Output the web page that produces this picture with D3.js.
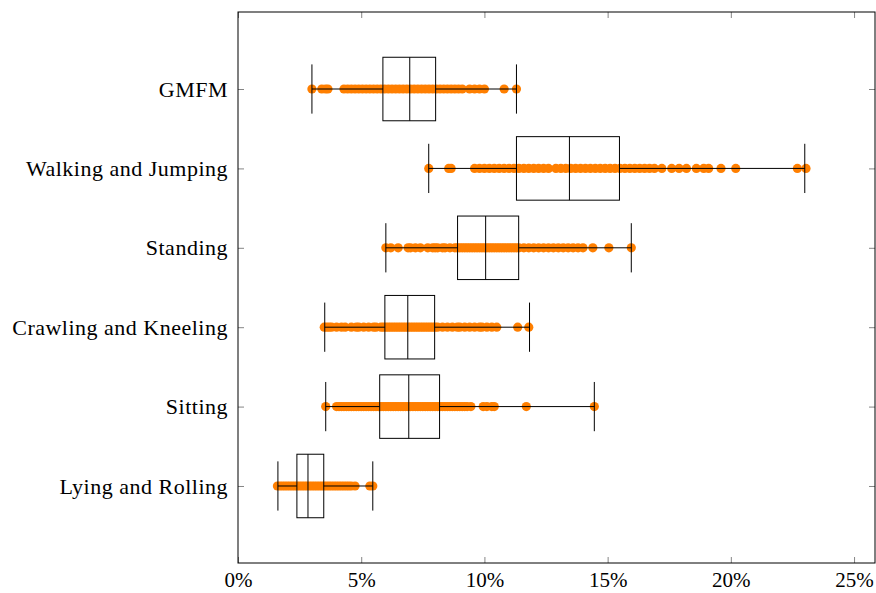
<!DOCTYPE html>
<html><head><meta charset="utf-8">
<script src="https://cdn.jsdelivr.net/npm/d3@7"></script>
<style>body{margin:0;background:#fff}svg{display:block}text{font-family:"Liberation Serif",serif;fill:#000}</style>
</head><body><svg id="c" width="876" height="593"></svg>
<script>
const categories = ["Lying and Rolling","Sitting","Crawling and Kneeling","Standing","Walking and Jumping","GMFM"];
const whiskerLow = [1.62, 3.56, 3.52, 6.0, 7.74, 3.0];
const q1 = [2.39, 5.75, 5.96, 8.91, 11.3, 5.88];
const median = [2.84, 6.93, 6.89, 10.05, 13.45, 6.97];
const q3 = [3.48, 8.18, 7.98, 11.39, 15.48, 8.02];
const whiskerHigh = [5.47, 14.46, 11.83, 15.96, 23.0, 11.3];
const pointsLying = [1.6,1.7,1.8,1.9,2.0,2.1,2.2,2.3,2.4,2.5,2.6,2.7,2.8,2.9,3.0,3.1,3.2,3.3,3.4,3.5,3.6,3.7,3.8,3.9,4.0,4.1,4.2,4.3,4.4,4.5,4.6,4.75,5.35,5.47];
const pointsSitting = [3.56,4.0,4.1,4.2,4.3,4.4,4.5,4.6,4.7,4.8,4.9,5.0,5.1,5.2,5.3,5.4,5.5,5.6,5.7,5.8,5.9,6.0,6.1,6.2,6.3,6.4,6.5,6.6,6.7,6.8,6.9,7.0,7.1,7.2,7.3,7.4,7.5,7.6,7.7,7.8,7.9,8.0,8.1,8.2,8.3,8.4,8.5,8.6,8.7,8.8,8.9,9.0,9.1,9.2,9.3,9.45,9.95,10.1,10.3,10.4,11.7,14.46];
const pointsCrawling = [3.5,3.6,3.7,3.8,4.0,4.2,4.35,4.6,4.8,4.9,5.1,5.3,5.5,5.6,5.8,5.9,6.0,6.1,6.2,6.3,6.4,6.5,6.6,6.7,6.8,6.9,7.0,7.1,7.2,7.3,7.4,7.5,7.6,7.7,7.8,7.9,8.0,8.1,8.3,8.5,8.7,8.9,9.0,9.2,9.4,9.6,9.8,9.9,10.1,10.3,10.5,11.35,11.8];
const pointsStanding = [6.0,6.2,6.5,6.9,7.0,7.2,7.4,7.7,7.9,8.0,8.1,8.3,8.4,8.6,8.8,8.9,9.0,9.1,9.2,9.3,9.4,9.5,9.6,9.7,9.8,9.9,10.0,10.1,10.2,10.3,10.4,10.5,10.6,10.7,10.8,10.9,11.0,11.1,11.2,11.3,11.4,11.6,11.8,12.0,12.2,12.4,12.6,12.8,13.0,13.2,13.4,13.6,13.8,14.0,14.4,15.05,15.96];
const pointsWalking = [7.74,8.55,8.65,9.6,9.8,10.0,10.2,10.4,10.6,10.8,11.0,11.2,11.4,11.6,11.8,12.0,12.2,12.4,12.6,12.9,13.1,13.3,13.5,13.7,13.9,14.1,14.3,14.5,14.7,14.9,15.1,15.3,15.5,15.7,15.9,16.1,16.3,16.5,16.7,16.9,17.2,17.6,17.9,18.2,18.6,18.9,19.1,19.6,20.2,22.7,23.05];
const pointsGMFM = [3.0,3.4,3.55,3.65,4.3,4.45,4.6,4.75,4.9,5.05,5.2,5.35,5.5,5.65,5.8,5.95,6.1,6.25,6.4,6.55,6.7,6.85,7.0,7.15,7.3,7.45,7.6,7.75,7.9,8.05,8.2,8.35,8.5,8.65,8.8,8.95,9.1,9.4,9.6,9.8,10.0,10.8,11.3];
const pointSets = [pointsLying, pointsSitting, pointsCrawling, pointsStanding, pointsWalking, pointsGMFM];
const xTicks = [0,5,10,15,20,25];

const svg = d3.select("#c");
const L=238, R=875, T=12, B=563;
const x = d3.scaleLinear().domain([0,25.85]).range([L,R]);
const y = d3.scaleLinear().domain([0.03,6.97]).range([B,T]);
const unit = y(0)-y(1);
const boxH = 0.8*unit, capH = 0.62*unit;

categories.forEach((c,i)=>{
  svg.append("g").selectAll("circle").data(pointSets[i]).join("circle")
    .attr("cx",d=>x(d)).attr("cy",y(i+1)).attr("r",4.6).attr("fill","#ff7f00");
});
categories.forEach((c,i)=>{
  const cy=y(i+1), g=svg.append("g").attr("stroke","#000").attr("stroke-width",1).attr("fill","none");
  g.append("rect").attr("x",x(q1[i])).attr("y",cy-boxH/2).attr("width",x(q3[i])-x(q1[i])).attr("height",boxH);
  g.append("line").attr("x1",x(median[i])).attr("x2",x(median[i])).attr("y1",cy-boxH/2).attr("y2",cy+boxH/2);
  g.append("line").attr("x1",x(whiskerLow[i])).attr("x2",x(q1[i])).attr("y1",cy).attr("y2",cy);
  g.append("line").attr("x1",x(q3[i])).attr("x2",x(whiskerHigh[i])).attr("y1",cy).attr("y2",cy);
  g.append("line").attr("x1",x(whiskerLow[i])).attr("x2",x(whiskerLow[i])).attr("y1",cy-capH/2).attr("y2",cy+capH/2);
  g.append("line").attr("x1",x(whiskerHigh[i])).attr("x2",x(whiskerHigh[i])).attr("y1",cy-capH/2).attr("y2",cy+capH/2);
});
const yAxis = d3.axisLeft(y).tickValues([1,2,3,4,5,6]).tickFormat((d)=>categories[d-1]).tickSizeInner(-6).tickSizeOuter(0).tickPadding(10);
const yg = svg.append("g").attr("transform",`translate(${L},0)`).call(yAxis);
const yAxisR = d3.axisRight(y).tickValues([1,2,3,4,5,6]).tickFormat("").tickSizeInner(-6).tickSizeOuter(0);
const yr = svg.append("g").attr("transform",`translate(${R},0)`).call(yAxisR);
const xAxis = d3.axisBottom(x).tickValues(xTicks).tickFormat(d=>d+"%").tickSizeInner(-6).tickSizeOuter(0);
const xg = svg.append("g").attr("transform",`translate(0,${B})`).call(xAxis);
const xAxisT = d3.axisTop(x).tickValues(xTicks).tickFormat("").tickSizeInner(-6).tickSizeOuter(0);
const xt = svg.append("g").attr("transform",`translate(0,${T})`).call(xAxisT);
[yg,yr,xg,xt].forEach(g=>{g.select(".domain").remove(); g.selectAll("line").attr("stroke","#666").attr("stroke-width",0.8);});
yg.selectAll("text").attr("font-size",22).style("letter-spacing","0.5px").style("font-family","Liberation Serif");
xg.selectAll("text").attr("font-size",21).style("font-family","Liberation Serif").attr("y",24).attr("dy","0");
svg.append("rect").attr("x",L).attr("y",T).attr("width",R-L).attr("height",B-T).attr("fill","none").attr("stroke","#000").attr("stroke-width",1);
</script></body></html>
